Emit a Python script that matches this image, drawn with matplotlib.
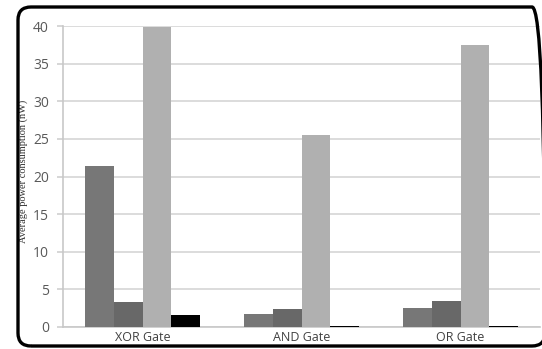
import matplotlib.pyplot as plt
import numpy as np
from matplotlib.patches import FancyBboxPatch
from matplotlib.transforms import IdentityTransform

gates = ["XOR Gate", "AND Gate", "OR Gate"]
series_a = [21.4, 1.7, 2.5]
series_b = [3.3, 2.35, 3.5]
series_c = [39.9, 25.5, 37.5]
series_d = [1.6, 0.12, 0.18]
y_ticks = [0, 5, 10, 15, 20, 25, 30, 35, 40]

colors = ["#777777", "#686868", "#b0b0b0", "#000000"]
W, H = 542, 349

fig = plt.figure(figsize=(W / 100, H / 100), dpi=100)
ax = fig.add_axes([63 / W, 22 / H, (540 - 63) / W, (327 - 26) / H])

x = np.arange(len(gates))
width = 0.182
for i, (vals, col) in enumerate(zip([series_a, series_b, series_c, series_d], colors)):
    ax.bar(x + (i - 1.5) * width, vals, width, color=col, zorder=3)

ax.set_xlim(-0.5, 2.5)
ax.set_ylim(0, 40)
ax.set_yticks(y_ticks)
ax.set_xticks(x)
ax.set_xticklabels(gates, fontfamily="Open Sans", fontsize=9, color="#404040")
ax.tick_params(axis="y", labelsize=10, labelcolor="#595959", color="#d0d0d0",
               length=4, width=1.2, pad=6)
ax.tick_params(axis="x", length=0, pad=3)
for lbl in ax.get_yticklabels():
    lbl.set_fontfamily("Open Sans")

ax.grid(axis="y", color="#d9d9d9", linewidth=1.3, zorder=0)
for side in ["top", "right"]:
    ax.spines[side].set_visible(False)
ax.spines["left"].set_color("#c8c8c8")
ax.spines["bottom"].set_color("#c8c8c8")
ax.spines["left"].set_linewidth(1.2)
ax.spines["bottom"].set_linewidth(1.2)

fig.text(23 / W, (H - 171) / H, "Average power consumption (nW)", rotation=90,
         ha="center", va="center", fontfamily="Liberation Serif", fontsize=7.5,
         color="#303030")

# rounded frame around the chart, running off the right edge
frame = FancyBboxPatch((18, 3), 527, 339, boxstyle="round,pad=0,rounding_size=13",
                       transform=IdentityTransform(), fill=False, edgecolor="black",
                       linewidth=2.4, zorder=10)
fig.patches.append(frame)

fig.savefig("out.png", dpi=100)
